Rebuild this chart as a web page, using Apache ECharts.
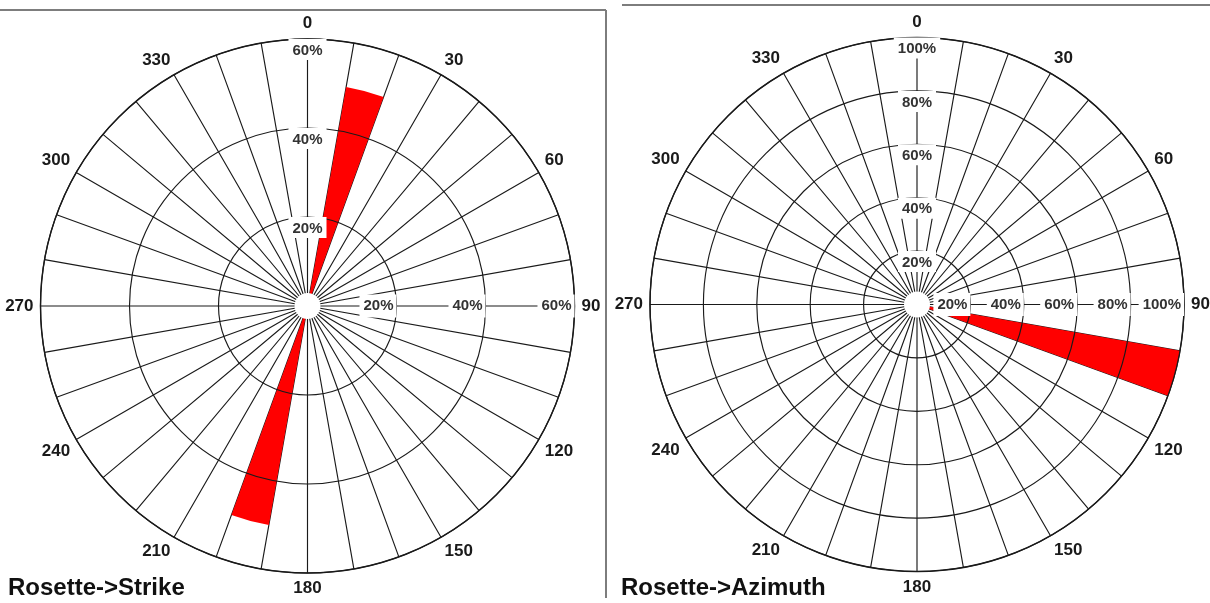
<!DOCTYPE html>
<html><head><meta charset="utf-8">
<script src="https://cdn.jsdelivr.net/npm/echarts@6/dist/echarts.min.js"></script>
<style>html,body{margin:0;padding:0;background:#fff}#c{width:1210px;height:603px}</style>
</head><body><div id="c"></div>
<script>
// 10-degree direction bins (clockwise from north)
const bins = ['0-10','10-20','20-30','30-40','40-50','50-60','60-70','70-80','80-90',
  '90-100','100-110','110-120','120-130','130-140','140-150','150-160','160-170','170-180',
  '180-190','190-200','200-210','210-220','220-230','230-240','240-250','250-260','260-270',
  '270-280','280-290','290-300','300-310','310-320','320-330','330-340','340-350','350-360'];
// compass tick labels every 30 degrees
const angleLabels = ['0','30','60','90','120','150','180','210','240','270','300','330'];
// percentage of observations per bin
const strikeValues = [0,50,0,0,0,0,0,0,0, 0,0,0,0,0,0,0,0,0, 0,50,0,0,0,0,0,0,0, 0,0,0,0,0,0,0,0,0];
const azimuthValues = [0,0,0,0,0,0,0,0,0, 0,100,0,0,0,0,0,0,0, 0,0,0,0,0,0,0,0,0, 0,0,0,0,0,0,0,0,0];
const strikeMax = 60, azimuthMax = 100, ringStep = 20;
const titles = ['Rosette->Strike', 'Rosette->Azimuth'];

const FONT = '"Liberation Sans", Arial, sans-serif';
const LINE = '#1a1a1a';
const pct = v => (v === 0 ? '' : v + '%');

const option = {
  animation: false,
  backgroundColor: '#fff',
  title: [], polar: [], angleAxis: [], radiusAxis: [], series: [],
  graphic: []
};

function addRose(cx, cy, R, max, values, base, title, titleLeft) {
  for (let k = 0; k < 3; k++) option.polar.push({ center: [cx, cy], radius: [0, R] });
  // main grid: spokes, outer circle, rings, bars, vertical % labels
  option.angleAxis.push({
    polarIndex: base, type: 'category', data: bins, boundaryGap: true,
    startAngle: 90, clockwise: true, z: 1,
    axisLine: { show: true, lineStyle: { color: LINE, width: 1.4 } },
    axisTick: { show: false, interval: 0 }, axisLabel: { show: false, interval: 0 },
    splitLine: { show: true, interval: 0, lineStyle: { color: LINE, width: 1.15 } }
  });
  option.radiusAxis.push({
    polarIndex: base, type: 'value', min: 0, max: max, interval: ringStep, z: 3,
    axisLine: { show: false }, axisTick: { show: false },
    splitLine: { show: true, lineStyle: { color: LINE, width: 1.15 } },
    axisLabel: {
      show: true, formatter: pct, align: 'center', verticalAlign: 'top', margin: 0,
      backgroundColor: '#fff', padding: [4, 4, 2, 4],
      fontSize: 15, fontWeight: 'bold', color: '#333', fontFamily: FONT
    }
  });
  option.series.push({
    type: 'bar', coordinateSystem: 'polar', polarIndex: base, data: values,
    barCategoryGap: '0%', itemStyle: { color: '#ff0000' }, z: 2, silent: true
  });
  // compass labels
  option.angleAxis.push({
    polarIndex: base + 1, type: 'category', data: angleLabels, boundaryGap: false,
    startAngle: 90, clockwise: true,
    axisLine: { show: false }, axisTick: { show: false }, splitLine: { show: false },
    axisLabel: { show: true, interval: 0, margin: 7, fontSize: 17, fontWeight: 'bold',
      color: '#1a1a1a', fontFamily: FONT }
  });
  option.radiusAxis.push({ polarIndex: base + 1, type: 'value', min: 0, max: max, show: false });
  // horizontal % labels
  option.angleAxis.push({
    polarIndex: base + 2, type: 'value', min: 0, max: 360, startAngle: 0, show: false
  });
  option.radiusAxis.push({
    polarIndex: base + 2, type: 'value', min: 0, max: max, interval: ringStep, z: 3,
    axisLine: { show: false }, axisTick: { show: false }, splitLine: { show: false },
    axisLabel: {
      show: true, formatter: pct, align: 'right', verticalAlign: 'middle', margin: 0,
      backgroundColor: '#fff', padding: [4, 3, 4, 4],
      fontSize: 15, fontWeight: 'bold', color: '#333', fontFamily: FONT
    }
  });
  option.graphic.push({ type: 'circle', shape: { cx: cx, cy: cy, r: 13 },
    style: { fill: '#fff' }, z: 20, silent: true });
  option.title.push({
    text: title, left: titleLeft, top: 576, padding: 0,
    textStyle: { fontSize: 24, fontWeight: 'bold', color: '#111', fontFamily: FONT }
  });
}

addRose(307.5, 306, 267, strikeMax, strikeValues, 0, titles[0], 8);
addRose(917, 304.5, 267, azimuthMax, azimuthValues, 3, titles[1], 621);

option.graphic.push(
  { type: 'line', shape: { x1: 0, y1: 10, x2: 606, y2: 10 }, style: { stroke: '#7d7d7d', lineWidth: 2 }, z: 20 },
  { type: 'line', shape: { x1: 606, y1: 10, x2: 606, y2: 598 }, style: { stroke: '#7d7d7d', lineWidth: 2 }, z: 20 },
  { type: 'line', shape: { x1: 622, y1: 5, x2: 1210, y2: 5 }, style: { stroke: '#7d7d7d', lineWidth: 2 }, z: 20 }
);

const chart = echarts.init(document.getElementById('c'), null, { renderer: 'canvas' });
chart.setOption(option);
</script>
</body></html>
